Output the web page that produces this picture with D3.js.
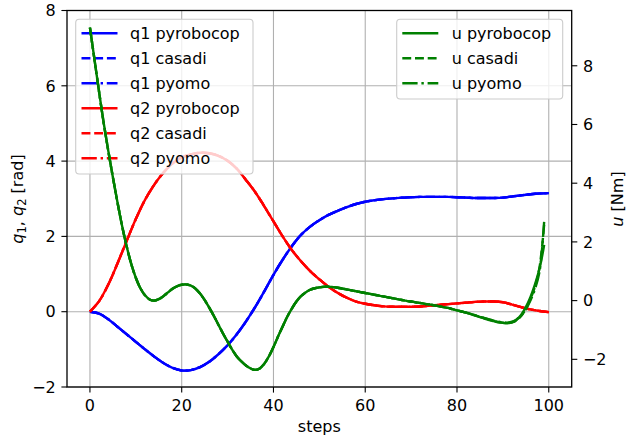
<!DOCTYPE html>
<html><head><meta charset="utf-8">
<script src="https://cdn.jsdelivr.net/npm/d3@7"></script>
<style>body{margin:0;background:#fff}svg{display:block;font-family:"DejaVu Sans",sans-serif}</style>
</head><body><svg id="c" width="626" height="436"></svg>
<script>
// ---- data ----
const qSteps = d3.range(0, 101, 2);
const q1Pyrobocop = [0,-0.05,-0.2,-0.4,-0.6,-0.8,-1.0,-1.19,-1.36,-1.49,-1.56,-1.55,-1.47,-1.33,-1.13,-0.89,-0.6,-0.26,0.12,0.54,0.98,1.38,1.74,2.04,2.26,2.43,2.57,2.68,2.78,2.86,2.92,2.96,2.99,3.01,3.03,3.04,3.05,3.05,3.05,3.05,3.04,3.03,3.02,3.02,3.02,3.03,3.06,3.09,3.12,3.14,3.15];
const q2Pyrobocop = [0,0.28,0.72,1.28,1.88,2.46,2.97,3.37,3.69,3.94,4.1,4.18,4.22,4.21,4.14,4.01,3.8,3.5,3.18,2.8,2.4,2.0,1.64,1.34,1.08,0.86,0.66,0.5,0.37,0.27,0.21,0.17,0.14,0.13,0.13,0.13,0.14,0.16,0.18,0.2,0.22,0.24,0.26,0.27,0.27,0.25,0.19,0.12,0.06,0.02,-0.01];
const q1Casadi = q1Pyrobocop, q1Pyomo = q1Pyrobocop;
const q2Casadi = q2Pyrobocop, q2Pyomo = q2Pyrobocop;
const uSteps = d3.range(0, 100);
const uPyrobocop = [9.3,8.2,7.1,6.05,5.1,4.2,3.35,2.55,1.85,1.25,0.78,0.42,0.18,0.04,0.0,0.05,0.15,0.28,0.4,0.49,0.54,0.55,0.51,0.41,0.24,0.02,-0.24,-0.52,-0.82,-1.12,-1.4,-1.67,-1.9,-2.07,-2.21,-2.31,-2.36,-2.31,-2.15,-1.9,-1.58,-1.22,-0.88,-0.55,-0.27,-0.03,0.15,0.28,0.37,0.42,0.45,0.47,0.47,0.46,0.44,0.41,0.38,0.35,0.32,0.29,0.26,0.23,0.2,0.17,0.14,0.11,0.08,0.05,0.02,-0.01,-0.03,-0.06,-0.08,-0.11,-0.13,-0.16,-0.19,-0.22,-0.25,-0.29,-0.33,-0.37,-0.41,-0.46,-0.51,-0.56,-0.61,-0.66,-0.7,-0.74,-0.76,-0.77,-0.74,-0.65,-0.48,-0.22,0.12,0.55,1.1,1.9];
const uCasadi = [9.3,8.2,7.1,6.05,5.1,4.2,3.35,2.55,1.85,1.25,0.78,0.42,0.18,0.04,0.0,0.05,0.15,0.28,0.4,0.49,0.54,0.55,0.51,0.41,0.24,0.02,-0.24,-0.52,-0.82,-1.12,-1.4,-1.67,-1.9,-2.07,-2.21,-2.31,-2.36,-2.31,-2.15,-1.9,-1.58,-1.22,-0.88,-0.55,-0.27,-0.03,0.15,0.28,0.37,0.42,0.45,0.47,0.47,0.46,0.44,0.41,0.38,0.35,0.32,0.29,0.26,0.23,0.2,0.17,0.14,0.11,0.08,0.05,0.02,-0.01,-0.03,-0.06,-0.08,-0.11,-0.13,-0.16,-0.19,-0.22,-0.25,-0.29,-0.33,-0.37,-0.41,-0.45,-0.5,-0.55,-0.6,-0.65,-0.69,-0.73,-0.75,-0.76,-0.74,-0.67,-0.52,-0.28,0.05,0.48,1.15,2.6];
const uPyomo = [9.3,8.2,7.1,6.05,5.1,4.2,3.35,2.55,1.85,1.25,0.78,0.42,0.18,0.04,0.0,0.05,0.15,0.28,0.4,0.49,0.54,0.55,0.51,0.41,0.24,0.02,-0.24,-0.52,-0.82,-1.12,-1.4,-1.67,-1.9,-2.07,-2.21,-2.31,-2.36,-2.31,-2.15,-1.9,-1.58,-1.22,-0.88,-0.55,-0.27,-0.03,0.15,0.28,0.37,0.42,0.45,0.47,0.47,0.46,0.44,0.41,0.38,0.35,0.32,0.29,0.26,0.23,0.2,0.17,0.14,0.11,0.08,0.05,0.02,-0.01,-0.03,-0.06,-0.08,-0.11,-0.13,-0.16,-0.19,-0.22,-0.25,-0.29,-0.33,-0.37,-0.41,-0.45,-0.5,-0.55,-0.6,-0.64,-0.68,-0.72,-0.74,-0.75,-0.72,-0.64,-0.5,-0.3,0.0,0.4,1.0,2.7];
const xTicks = [0,20,40,60,80,100];
const yLeftTicks = [-2,0,2,4,6,8];
const yRightTicks = [-2,0,2,4,6,8];
const legendLeft = ["q1 pyrobocop","q1 casadi","q1 pyomo","q2 pyrobocop","q2 casadi","q2 pyomo"];
const legendRight = ["u pyrobocop","u casadi","u pyomo"];

// ---- layout ----
const L = 67, R = 571.7, T = 10.5, B = 387;
const FS = 16, LW = 2.4;
const svg = d3.select("#c");
const x = d3.scaleLinear().domain([-5, 105]).range([L, R]);
const yL = d3.scaleLinear().domain([-2, 8]).range([B, T]);
const allU = uPyrobocop.concat(uCasadi, uPyomo);
const uMin = d3.min(allU), uMax = d3.max(allU), span = uMax - uMin;
const yR = d3.scaleLinear().domain([uMin - 0.05*span, uMax + 0.05*span]).range([B, T]);

svg.append("defs").append("clipPath").attr("id","clip")
  .append("rect").attr("x",L).attr("y",T).attr("width",R-L).attr("height",B-T);

const grid = svg.append("g");
xTicks.forEach(t => grid.append("line").attr("x1",x(t)).attr("x2",x(t)).attr("y1",T).attr("y2",B)
  .attr("stroke","#b0b0b0").attr("stroke-width",1.1));
yLeftTicks.forEach(t => grid.append("line").attr("x1",L).attr("x2",R).attr("y1",yL(t)).attr("y2",yL(t))
  .attr("stroke","#b0b0b0").attr("stroke-width",1.1));

const dashes = {solid:null, dashed:"8.9,3.8", dashdot:"15.3,3.8,2.4,3.8"};
const styles = ["solid","dashed","dashdot"];

const lineQ = d3.line().x((d,i)=>x(qSteps[i])).y(d=>yL(d)).curve(d3.curveCatmullRom.alpha(0.5));
const lineU = d3.line().x((d,i)=>x(uSteps[i])).y(d=>yR(d)).curve(d3.curveCatmullRom.alpha(0.5));

const g1 = svg.append("g").attr("clip-path","url(#clip)");
[[q1Pyrobocop,q1Casadi,q1Pyomo,"#0000ff"],[q2Pyrobocop,q2Casadi,q2Pyomo,"#ff0000"]].forEach(s => {
  [0,1,2].forEach(k => g1.append("path").attr("d", lineQ(s[k])).attr("fill","none")
    .attr("stroke", s[3]).attr("stroke-width", LW).attr("stroke-dasharray", dashes[styles[k]]));
});

// axes
const ax = svg.append("g").attr("font-size", FS).attr("fill","#000");
function tickLine(x1,y1,x2,y2){ ax.append("line").attr("x1",x1).attr("y1",y1).attr("x2",x2).attr("y2",y2).attr("stroke","#000").attr("stroke-width",1.1); }
const fmt = d3.format("d");
xTicks.forEach(t => { tickLine(x(t),B,x(t),B+5.6);
  ax.append("text").attr("x",x(t)).attr("y",B+11.5).attr("dy","0.76em").attr("text-anchor","middle").text(fmt(t)); });
yLeftTicks.forEach(t => { tickLine(L,yL(t),L-5.6,yL(t));
  ax.append("text").attr("x",L-11.2).attr("y",yL(t)).attr("dy","0.36em").attr("text-anchor","end").text(fmt(t)); });

// legend helper
function legend(x0, y0, w, h, labels, colors, hx0, hx1, tx) {
  const g = svg.append("g");
  g.append("rect").attr("x",x0).attr("y",y0).attr("width",w).attr("height",h).attr("rx",3.5)
    .attr("fill","#fff").attr("fill-opacity",0.8).attr("stroke","#cccccc").attr("stroke-width",1.1);
  labels.forEach((lab,i) => {
    const cy = y0 + 14 + i*25;
    g.append("line").attr("x1",hx0).attr("x2",hx1).attr("y1",cy).attr("y2",cy)
      .attr("stroke",colors[i]).attr("stroke-width",LW).attr("stroke-dasharray",dashes[styles[i%3]]);
    g.append("text").attr("x",tx).attr("y",cy).attr("dy","0.36em").attr("font-size",FS).text(lab);
  });
}
legend(75.7, 19.3, 177.3, 154.7, legendLeft, ["#0000ff","#0000ff","#0000ff","#ff0000","#ff0000","#ff0000"], 81.5, 117.5, 130);

// ax2 lines
const g2 = svg.append("g").attr("clip-path","url(#clip)");
[uPyrobocop,uCasadi,uPyomo].forEach((s,k) => g2.append("path").attr("d", lineU(s)).attr("fill","none")
  .attr("stroke","#008000").attr("stroke-width",LW).attr("stroke-dasharray",dashes[styles[k]]));

yRightTicks.forEach(t => { tickLine(R,yR(t),R+5.6,yR(t));
  ax.append("text").attr("x",R+11.2).attr("y",yR(t)).attr("dy","0.36em").attr("text-anchor","start").text(fmt(t)); });

// spines
const sp = svg.append("g").attr("stroke","#000").attr("stroke-width",1.3).attr("fill","none");
sp.append("rect").attr("x",L).attr("y",T).attr("width",R-L).attr("height",B-T);

// labels
svg.append("text").attr("x",(L+R)/2).attr("y",426).attr("dy","0.36em").attr("text-anchor","middle")
  .attr("font-size",FS).text("steps");
const ylab = svg.append("text").attr("transform","translate(17,199) rotate(-90)").attr("text-anchor","middle")
  .attr("dy","0.36em").attr("font-size",FS);
ylab.append("tspan").attr("font-style","italic").text("q");
ylab.append("tspan").attr("font-size",11.5).attr("dy",3.5).text("1");
ylab.append("tspan").attr("dy",-3.5).text(", ");
ylab.append("tspan").attr("font-style","italic").text("q");
ylab.append("tspan").attr("font-size",11.5).attr("dy",3.5).text("2");
ylab.append("tspan").attr("dy",-3.5).text(" [rad]");
const rlab = svg.append("text").attr("transform","translate(617,199) rotate(-90)").attr("text-anchor","middle")
  .attr("dy","0.36em").attr("font-size",FS);
rlab.append("tspan").attr("font-style","italic").text("u");
rlab.append("tspan").text(" [Nm]");

// legend 2 (ax2)
legend(396.7, 19.3, 166, 79.7, legendRight, ["#008000","#008000","#008000"], 402.3, 438.3, 451.7);
</script></body></html>
